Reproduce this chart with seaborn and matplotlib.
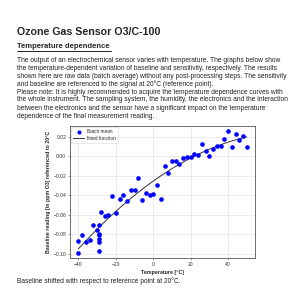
import numpy as np
import pandas as pd
import matplotlib
matplotlib.use("Agg")
import matplotlib.pyplot as plt
import seaborn as sns

temperature = [-40, -40, -38, -36, -34, -32, -30, -29, -29, -29, -29, -29, -29,
               -28, -26, -24, -22, -20, -18, -16, -14, -12, -10, -8, -6, -4, -2, 0,
               2, 4, 6, 8, 10, 12, 14, 16, 18, 20, 22, 24, 26, 28, 30, 32, 34, 36,
               38, 40, 42, 44, 46, 48, 50]
baseline = [-0.0986, -0.0867, -0.0811, -0.0880, -0.0860, -0.0708, -0.0753, -0.0708,
            -0.0880, -0.0843, -0.0810, -0.0795, -0.0974,
            -0.0570, -0.0608, -0.0600, -0.0407, -0.0580, -0.0442, -0.0397, -0.0460,
            -0.0345, -0.0345, -0.0221, -0.0449, -0.0376, -0.0397, -0.0383,
            -0.0290, -0.0442, -0.0100, -0.0176, -0.0052, -0.0052, -0.0076, -0.0017,
            -0.0003, -0.0003, 0.0020, 0.0014, 0.0128, 0.0055, 0.0000, 0.0076, 0.0104,
            0.0104, 0.0173, 0.0259, 0.0090, 0.0225, 0.0166, 0.0207, 0.0090]

title = "Ozone Gas Sensor O3/C-100"
heading = "Temperature dependence"
paragraph = [
    "The output of an electrochemical sensor varies with temperature. The graphs below show",
    "the temperature-dependent variation of baseline and sensitivity, respectively. The results",
    "shown here are raw data (batch average) without any post-processing steps. The sensitivity",
    "and baseline are referenced to the signal at 20°C (reference point).",
    "Please note: It is highly recommended to acquire the temperature dependence curves with",
    "the whole instrument. The sampling system, the humidity, the electronics and the interaction",
    "between the electronics and the sensor have a significant impact on the temperature",
    "dependence of the final measurement reading.",
]
caption = "Baseline shifted with respect to reference point at 20°C."
xlabel = "Temperature [°C]"
ylabel = "Baseline reading [in ppm O3] referenced to 20°C"
legend_labels = ["Batch mean", "fitted function"]

sns.set_style("whitegrid")
plt.rcParams['font.family'] = ['Liberation Sans', 'DejaVu Sans']

df = pd.DataFrame({"T": temperature, "B": baseline})
coef = np.polyfit(df["T"], df["B"], 2)
t_fit = np.linspace(min(temperature), max(temperature), 100)
fit_df = pd.DataFrame({"T": t_fit, "B": np.polyval(coef, t_fit)})

fig = plt.figure(figsize=(3, 3), dpi=100)
fig.patch.set_facecolor("white")

fig.text(17/300, 1 - 32/300, title, fontsize=7.7, fontweight="bold", va="center", ha="left")
fig.text(17/300, 1 - 46.5/300, heading, fontsize=5.5, fontweight="bold", va="center", ha="left")
fig.add_artist(plt.Line2D([17/300, 111/300], [1 - 50.5/300, 1 - 50.5/300], color="black", lw=0.6))
for i, line in enumerate(paragraph):
    fig.text(17/300, 1 - (60 + i * 8.0)/300, line, fontsize=4.75, va="center", ha="left",
             color="#222222")
fig.text(17/300, 1 - 281/300, caption, fontsize=4.75, va="center", ha="left", color="#222222")

ax = fig.add_axes([70/300, 1 - 258.3/300, (255.3 - 70)/300, (258.3 - 126)/300])
sns.scatterplot(data=df, x="T", y="B", ax=ax, color="blue", s=11, linewidth=0,
                label=legend_labels[0], zorder=3)
sns.lineplot(data=fit_df, x="T", y="B", ax=ax, color="#333333", lw=0.7,
             label=legend_labels[1], zorder=2)

ax.set_xlim(-44.5, 54.5)
ax.set_ylim(-0.1045, 0.031)
ax.set_xticks([-40, -20, 0, 20, 40])
ax.set_yticks([-0.10, -0.08, -0.06, -0.04, -0.02, 0.00, 0.02])
ax.set_yticklabels(["\u22120.10", "\u22120.08", "\u22120.06", "\u22120.04", "\u22120.02", "0.00", "0.02"])
ax.tick_params(labelsize=3.6, length=1.5, width=0.4, pad=1.2, color="#555555", labelcolor="#333333",
               bottom=True, left=True)
ax.set_xlabel(xlabel, fontsize=3.8, fontweight="bold", labelpad=2)
ax.set_ylabel(ylabel, fontsize=3.8, fontweight="bold", labelpad=2)
ax.grid(True, color="#e5e5e5", lw=0.5)
for s in ax.spines.values():
    s.set_color("#555555")
    s.set_linewidth(0.6)
leg = ax.legend(loc="upper left", fontsize=3.4, frameon=True, markerscale=0.9,
                handlelength=2.2, borderpad=0.4, labelspacing=0.3, borderaxespad=0.3)
leg.get_frame().set_linewidth(0.4)
leg.get_frame().set_edgecolor("#cccccc")

fig.savefig("out.png", dpi=100, facecolor="white")
